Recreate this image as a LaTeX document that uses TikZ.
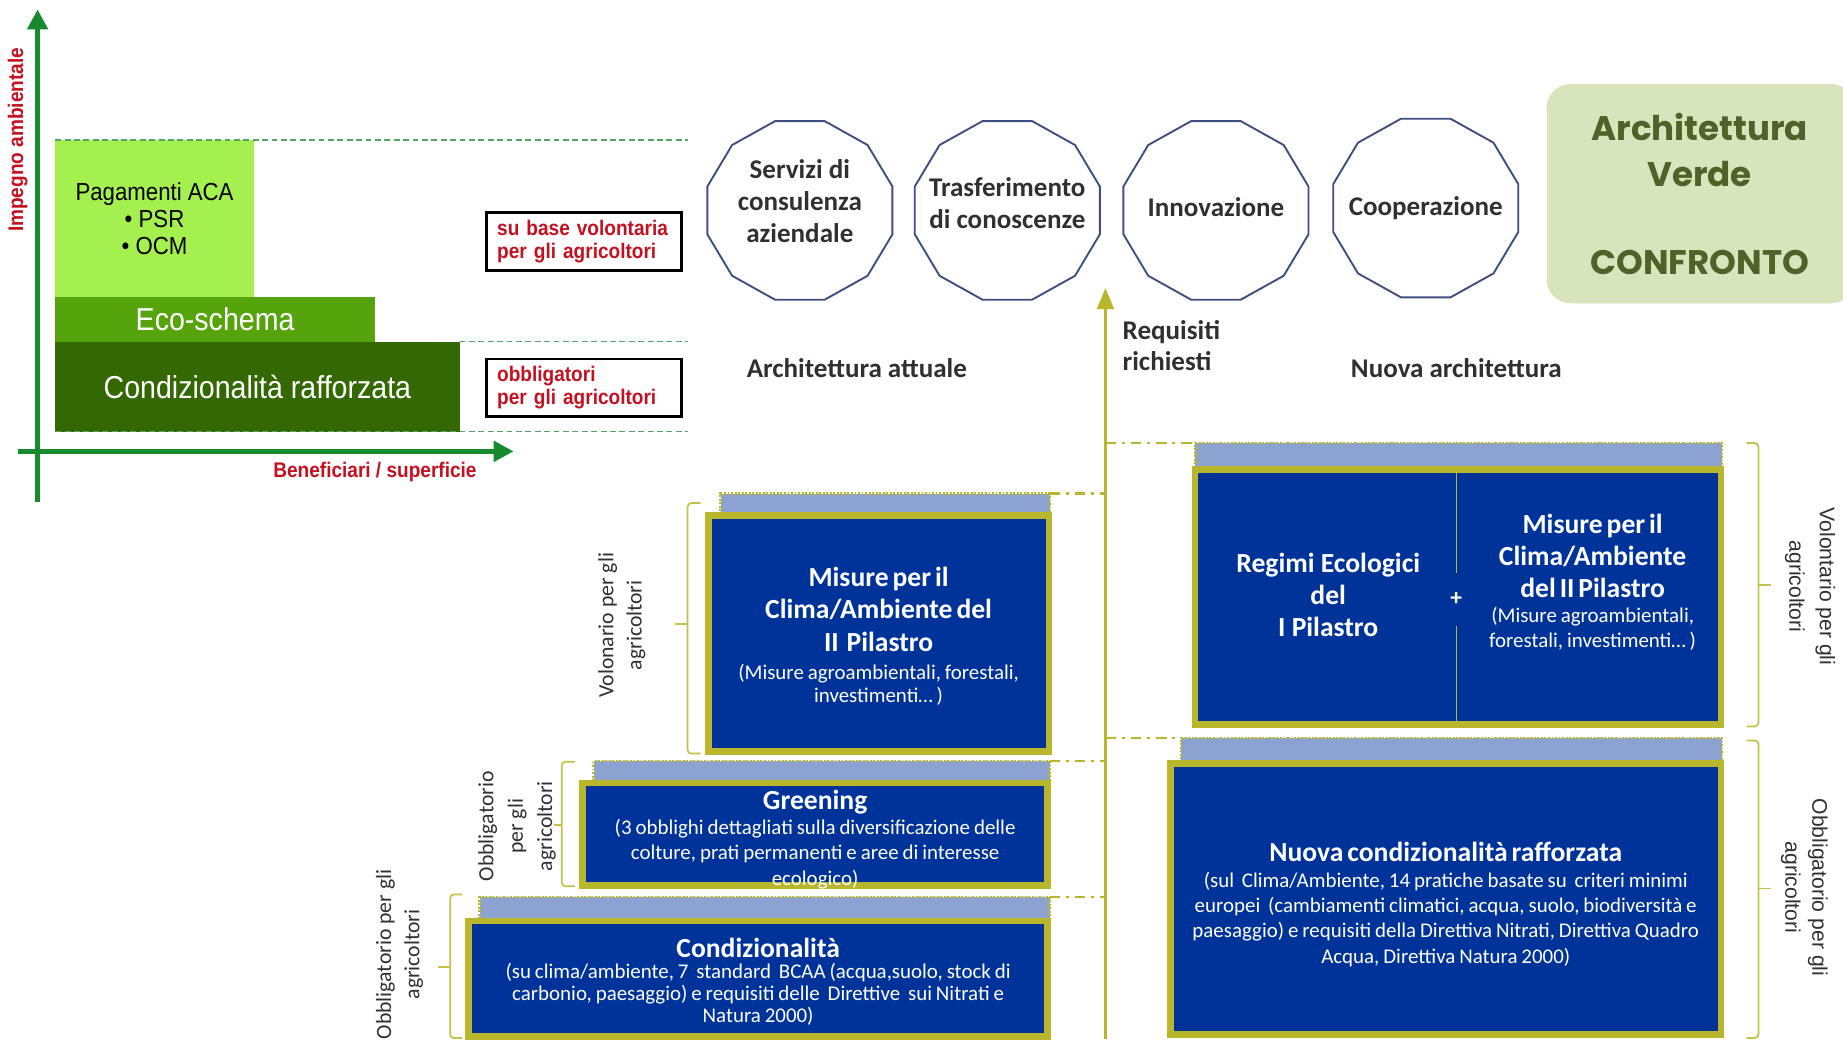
\documentclass[tikz,border=0pt]{standalone}
\usepackage{fontspec}
\setmainfont{Carlito}
\newfontfamily\arialN{Liberation Sans}[FakeStretch=0.9]
\newfontfamily\arialf{Liberation Sans}
\newfontfamily\gothicf{Poppins}
\usetikzlibrary{shapes.geometric,arrows.meta}
\definecolor{axisgreen}{RGB}{24,138,46}
\definecolor{acagreen}{RGB}{164,240,78}
\definecolor{ecogreen}{RGB}{86,164,12}
\definecolor{condgreen}{RGB}{52,104,2}
\definecolor{dashgreen}{RGB}{84,164,104}
\definecolor{redtxt}{RGB}{196,16,32}
\definecolor{octline}{RGB}{62,78,128}
\definecolor{olivex}{RGB}{184,182,42}
\definecolor{navyx}{RGB}{0,51,153}
\definecolor{bandblue}{RGB}{140,162,208}
\definecolor{verdefill}{RGB}{216,228,188}
\definecolor{verdetxt}{RGB}{80,98,40}
\definecolor{txtgray}{RGB}{48,48,48}
\newcommand\ttlfont{\fontsize{23.5}{27.5}\selectfont\bfseries}
\newcommand\subfnt[2]{\fontsize{#1}{#2}\selectfont\mdseries}
\begin{document}
\begin{tikzpicture}[x=1pt,y=-1pt,
  axisline/.style={draw=axisgreen, line width=4.5, -{Triangle[length=17,width=17]}},
  gdash/.style={draw=dashgreen, line width=1.2, dash pattern=on 5 off 3},
  chartbox/.style={inner sep=0, outer sep=0, anchor=north west, align=center},
  redbox/.style={draw=black, line width=2.2, text=redtxt, align=left, inner xsep=9, inner ysep=0, text width=148, minimum height=49, font=\arialN\bfseries\fontsize{18}{19.6}\selectfont},
  octa/.style={regular polygon, regular polygon sides=12, minimum size=163, draw=octline, line width=1.6, inner sep=0, yscale=0.965, transform shape},
  octtext/.style={align=center, text=txtgray, font=\fontsize{23}{27.5}\selectfont\bfseries, inner sep=0},
  headtext/.style={text=txtgray, font=\fontsize{23}{27}\selectfont\bfseries, inner sep=0},
  bluebox/.style={draw=olivex, line width=5.5, fill=navyx, inner sep=0},
  wtext/.style={text=white, align=center, inner sep=0},
  band/.style={fill=bandblue, inner sep=0, outer sep=0, anchor=north west},
  banddots/.style={draw=olivex, line width=2, dash pattern=on 1.6 off 1.4},
  ddot/.style={draw=olivex, line width=2.2, dash pattern=on 9 off 5 on 2.5 off 5},
  brk/.style={draw=olivex!85, line width=1.5, rounded corners=3},
  sidelbl/.style={align=center, text=txtgray, inner sep=0, font=\fontsize{18.5}{24}\selectfont},
  sidelblR/.style={align=center, text=txtgray, inner sep=0, font=\arialf\fontsize{18}{24}\selectfont},
  reqarrow/.style={draw=olivex, line width=3, -{Triangle[length=18,width=14]}},
  redlbl/.style={text=redtxt, inner sep=0, font=\arialN\bfseries\fontsize{18}{20}\selectfont}
]
\fill[white] (0,0) rectangle (1568,887);
\useasboundingbox (0,0) rectangle (1568,887);

% ---------- left chart ----------
\node[chartbox, fill=acagreen, minimum width=169, minimum height=133.5, font=\arialN\fontsize{21}{23}\selectfont] (aca) at (47,119) {Pagamenti ACA\\• PSR\\• OCM};
\node[chartbox, fill=ecogreen, minimum width=272, minimum height=38.2, text=white, font=\arialN\fontsize{27}{29}\selectfont] (eco) at (47,252.5) {Eco-schema};
\node[chartbox, fill=condgreen, minimum width=344, minimum height=76.6, text=white, font=\arialN\fontsize{27}{29}\selectfont] (cond) at (47,290.7) {Condizionalità rafforzata};
\coordinate (d1) at (585,118);
\draw[gdash] (aca.north west) -- (aca.north west -| d1);
\draw[gdash] (cond.north east) -- (cond.north east -| d1);
\draw[gdash] (cond.south west) -- (cond.south west -| d1);
\coordinate (yb) at (32,427);
\coordinate (yt) at (32,8);
\coordinate (xl) at (15,384);
\coordinate (xr) at (437,384);
\draw[axisline] (yb) -- (yt);
\draw[axisline] (xl) -- (xr);
\node[redlbl, rotate=90] (ylab) at (15,119) {Impegno ambientale};
\node[redlbl] (xlab) at (319,402) {Beneficiari / superficie};
\node[redbox] (rb1) at (497,205.5) {su base volontaria\\per gli agricoltori};
\node[redbox] (rb2) at (497,330) {obbligatori\\per gli agricoltori};

% ---------- octagons ----------
\node[octa] (o1) at (680.5,179) {};
\node[octa] (o2) at (857,179) {};
\node[octa] (o3) at (1034.5,179) {};
\node[octa] (o4) at (1213,177) {};
\node[octtext] (o1t) at (680.5,171) {Servizi di\\consulenza\\aziendale};
\node[octtext] (o2t) at (857,173) {Trasferimento\\di conoscenze};
\node[octtext] (o3t) at (1034.5,176) {Innovazione};
\node[octtext] (o4t) at (1213,177) {Cooperazione};

% ---------- Architettura Verde ----------
\node[fill=verdefill, rounded corners=20, minimum width=262, minimum height=186.5, inner sep=0] (av) at (1447,164.75) {};
\node[align=center, inner sep=0, text=verdetxt, font=\gothicf\bfseries\fontsize{29}{39}\selectfont] (avt) at (1446,165) {Architettura\\Verde\\[36pt]CONFRONTO};

% ---------- headings ----------
\node[headtext] (hA) at (729,313) {Architettura attuale};
\node[headtext] (hN) at (1239,313) {Nuova architettura};
\node[headtext, align=left, anchor=west] (req) at (955,294) {Requisiti\\richiesti};

% ---------- requisiti arrow ----------
\coordinate (rq0) at (940.5,884);
\coordinate (rq1) at (940.5,245);
\draw[reqarrow] (rq0) -- (rq1);

% ---------- bands ----------
\node[band, minimum width=280, minimum height=18] (band1) at (613,420) {};
\node[band, minimum width=388, minimum height=17] (band2) at (505,647.5) {};
\node[band, minimum width=485, minimum height=19] (band3) at (408,763) {};
\node[band, minimum width=448, minimum height=21] (band4) at (1017,377) {};
\node[band, minimum width=460, minimum height=21] (band5) at (1005,628) {};
\foreach \b in {band1,band2,band3,band4,band5}{
  \draw[banddots] (\b.south west) -- (\b.north west) -- (\b.north east) -- (\b.south east);
}
\draw[ddot] (band1.north east) -- (band1.north east -| rq0);
\draw[ddot] (band2.north east) -- (band2.north east -| rq0);
\draw[ddot] (band3.north east) -- (band3.north east -| rq0);
\draw[ddot] (rq0 |- band4.north west) -- (band4.north west);
\draw[ddot] (rq0 |- band5.north west) -- (band5.north west);

% ---------- blue boxes ----------
\node[bluebox, minimum width=289.5, minimum height=200.5] (b1) at (747.5,539) {};
\node[wtext, text width=275] (b1t) at (747.5,541.5)
  {{\ttlfont Misure per il\\Clima/Ambiente del\\II\ \ Pilastro\par}\vspace{4pt}{\subfnt{17.8}{20}(Misure agroambientali, forestali,\\investimenti… )\par}};
\node[bluebox, minimum width=395.5, minimum height=87] (b2) at (693.5,709.75) {};
\node[wtext, text width=390] (b2t) at (693.5,714)
  {{\ttlfont Greening\par}{\subfnt{17.8}{21.5}(3 obblighi dettagliati sulla diversificazione delle\\colture, prati permanenti e aree di interesse\\ecologico)\par}};
\node[bluebox, minimum width=492.5, minimum height=98] (b3) at (645,832.75) {};
\node[wtext, text width=486] (b3t) at (645,835)
  {{\ttlfont Condizionalità\par}{\subfnt{17.8}{18.5}(su clima/ambiente, 7\ \ standard\ \ BCAA (acqua,suolo, stock di\\carbonio, paesaggio) e requisiti delle\ \ Direttive\ \ sui Nitrati e\\Natura 2000)\par}};
\node[bluebox, minimum width=447.5, minimum height=217] (b4) at (1240.5,507.75) {};
\node[wtext, minimum height=44, font=\fontsize{20}{22}\selectfont\bfseries] (plus) at (1239,510) {+};
\draw[olivex, line width=1.2] (b4.north -| plus) -- (plus.north);
\draw[olivex, line width=1.2] (plus.south) -- (b4.south -| plus);
\node[wtext, font=\ttlfont] (b4l) at (1130,506) {Regimi Ecologici\\del\\I Pilastro};
\node[wtext, text width=215] (b4r) at (1355,495)
  {{\ttlfont Misure per il\\Clima/Ambiente\\del II Pilastro\par}{\subfnt{17.8}{21}(Misure agroambientali,\\forestali, investimenti… )\par}};
\node[bluebox, minimum width=468.5, minimum height=230.5] (b5) at (1230,765) {};
\node[wtext, text width=462] (b5t) at (1230,769.5)
  {{\ttlfont Nuova condizionalità rafforzata\par}{\subfnt{17.8}{21.5}(sul\ \ Clima/Ambiente, 14 pratiche basate su\ \ criteri minimi\\europei\ \ (cambiamenti climatici, acqua, suolo, biodiversità e\\paesaggio) e requisiti della Direttiva Nitrati, Direttiva Quadro\\Acqua, Direttiva Natura 2000)\par}};

% ---------- brackets ----------
\draw[brk] (596,428) -- (585,428) -- (585,641) -- (596,641);
\draw[brk] (585,531) -- (574,531);
\draw[brk] (489,648) -- (478,648) -- (478,754) -- (489,754);
\draw[brk] (478,702) -- (471,702);
\draw[brk] (393,761) -- (383,761) -- (383,883) -- (393,883);
\draw[brk] (383,823) -- (373,823);
\draw[brk] (1486,377) -- (1496,377) -- (1496,618) -- (1486,618);
\draw[brk] (1496,498) -- (1507,498);
\draw[brk] (1486,630) -- (1496,630) -- (1496,883) -- (1486,883);
\draw[brk] (1496,756) -- (1507,756);

% ---------- side labels ----------
\node[sidelbl, rotate=90] (lv) at (529,532) {Volonario per gli\\agricoltori};
\node[sidelbl, rotate=90, font=\fontsize{18.5}{25}\selectfont] (lg) at (440,703) {Obbligatorio\\per gli\\agricoltori};
\node[sidelbl, rotate=90] (lc) at (340,812) {Obbligatorio per gli\\agricoltori};
\node[sidelblR, rotate=-90, font=\arialf\fontsize{18}{26}\selectfont] (rv) at (1540,499) {Volontario per gli\\agricoltori};
\node[sidelblR, rotate=-90, font=\arialf\fontsize{18}{23}\selectfont] (ro) at (1535,755) {Obbligatorio per gli\\agricoltori};
\end{tikzpicture}
\end{document}
